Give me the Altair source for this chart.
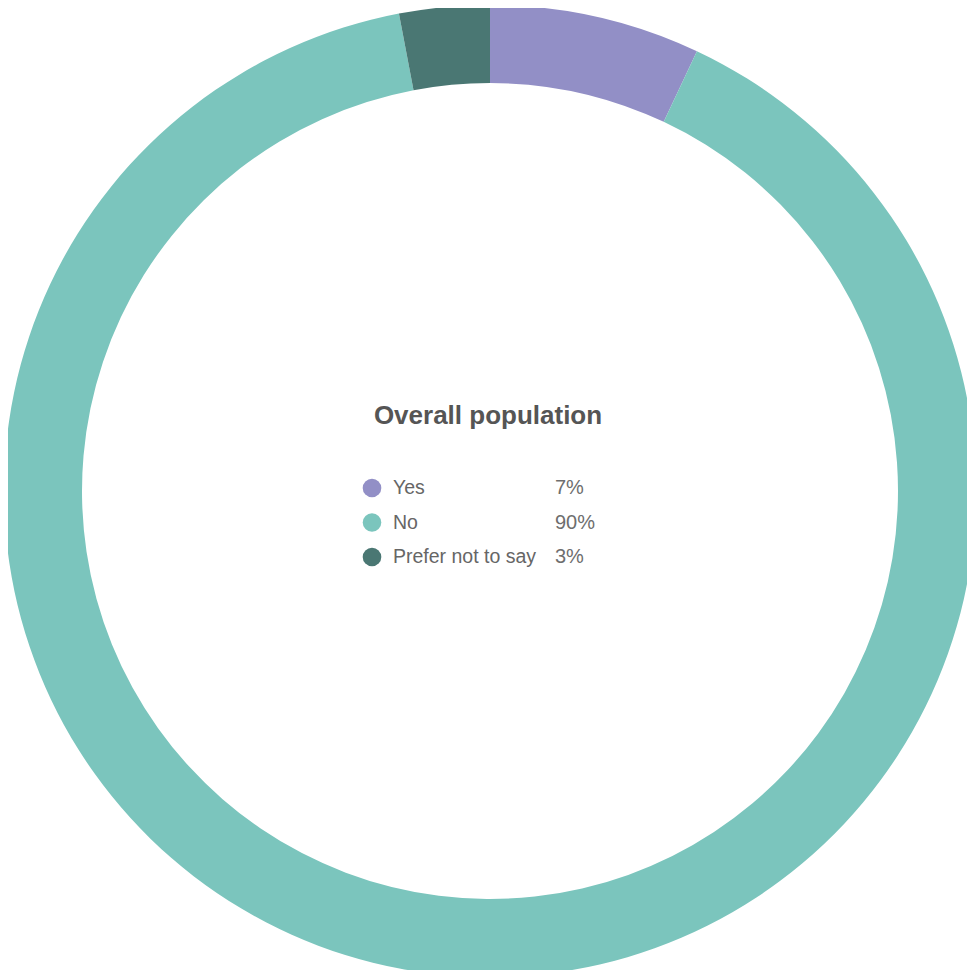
import altair as alt
import pandas as pd

categories = ["Yes", "No", "Prefer not to say"]
values = [7, 90, 3]
pct_labels = ["7%", "90%", "3%"]
colors = ["#928FC6", "#7BC5BD", "#4A7773"]
title_text = ["Overall population"]

df = pd.DataFrame({
    "category": categories,
    "value": values,
    "pct": pct_labels,
    "order": list(range(len(categories))),
})
title_df = pd.DataFrame({"t": title_text})

W, H = 959, 962
cx, cy = 482, 483

color = alt.Color("category:N", scale=alt.Scale(domain=categories, range=colors), legend=None)
yscale = alt.Scale(type="point", domain=categories, range=[480, 549], padding=0)

arc = alt.Chart(df).mark_arc(radius=486, innerRadius=408, stroke=None).encode(
    theta=alt.Theta("value:Q", stack=True),
    order=alt.Order("order:Q"),
    color=color,
    x=alt.value(cx),
    y=alt.value(cy),
)

dots = alt.Chart(df).mark_circle(size=346, opacity=1).encode(
    x=alt.value(364),
    y=alt.Y("category:N", scale=yscale, axis=None),
    color=color,
)

labels = alt.Chart(df).mark_text(
    align="left", baseline="middle", font="Liberation Sans", fontSize=19.5, color="#666666"
).encode(
    x=alt.value(385),
    y=alt.Y("category:N", scale=yscale, axis=None),
    text="category:N",
)

pcts = alt.Chart(df).mark_text(
    align="left", baseline="middle", font="Liberation Sans", fontSize=20, color="#6e6e6e"
).encode(
    x=alt.value(547),
    y=alt.Y("category:N", scale=yscale, axis=None),
    text="pct:N",
)

title = alt.Chart(title_df).mark_text(
    align="center", baseline="middle", font="Liberation Sans", fontSize=26,
    fontWeight=600, color="#555555"
).encode(
    x=alt.value(480),
    y=alt.value(408),
    text="t:N",
)

chart = alt.layer(arc, dots, labels, pcts, title).properties(
    width=W, height=H, autosize=alt.AutoSizeParams(type="none"), padding=0
).configure_view(stroke=None)

chart.save("out.html", embed_options={"renderer": "svg", "actions": False})
